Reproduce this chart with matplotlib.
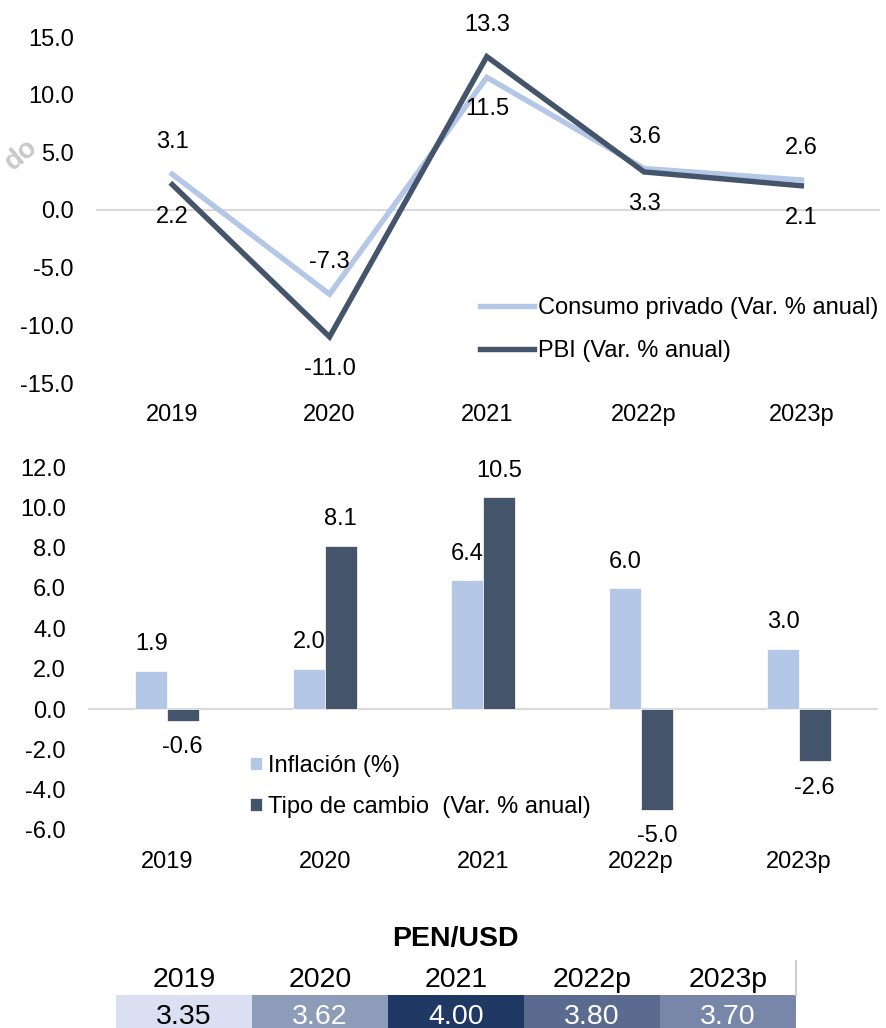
import numpy as np
import matplotlib
matplotlib.use('Agg')
import matplotlib.pyplot as plt
from matplotlib.patches import Rectangle

plt.rcParams['font.family'] = ['Liberation Sans', 'DejaVu Sans']

# data
years = ['2019', '2020', '2021', '2022p', '2023p']
consumo = [3.1, -7.3, 11.5, 3.6, 2.6]
pbi = [2.2, -11.0, 13.3, 3.3, 2.1]
# label side: +1 above, -1 below
consumo_side = [1, 1, -1, 1, 1]
pbi_side = [-1, -1, 1, -1, -1]

inflacion = [1.9, 2.0, 6.4, 6.0, 3.0]
tipo_cambio = [-0.6, 8.1, 10.5, -5.0, -2.6]

pen_usd = [3.35, 3.62, 4.00, 3.80, 3.70]
cell_colors = ['#DAE0F2', '#8E9CB9', '#203864', '#5B6B8F', '#7786A9']
cell_text_colors = ['black', 'white', 'white', 'white', 'white']

light = '#B4C7E7'
dark = '#44546A'
zero_col = '#D9D9D9'
fs = 17

W, H = 887, 1028
fig = plt.figure(figsize=(W/100, H/100), dpi=100)

def px_axes(x0, x1, y0, y1):
    # pixel box (top-left origin) -> figure fraction
    return fig.add_axes([x0/W, 1-y1/H, (x1-x0)/W, (y1-y0)/H])

x = np.arange(len(years))

# ---- top chart: lines
ax1 = px_axes(96, 880, 37, 383)
ax1.axhline(0, color=zero_col, lw=1.5, zorder=1)
ax1.plot(x, consumo, color=light, lw=3.9, label='Consumo privado (Var. % anual)', zorder=3, solid_joinstyle='miter')
ax1.plot(x, pbi, color=dark, lw=3.9, label='PBI (Var. % anual)', zorder=4, solid_joinstyle='miter')
for xi, v, s in zip(x, consumo, consumo_side):
    ax1.annotate(f'{v:.1f}', (xi, v), xytext=(0, 23*s), textcoords='offset points',
                 ha='center', va='center', fontsize=fs)
for xi, v, s in zip(x, pbi, pbi_side):
    ax1.annotate(f'{v:.1f}', (xi, v), xytext=(0, 23*s), textcoords='offset points',
                 ha='center', va='center', fontsize=fs)
ax1.set_xlim(-0.485, 4.5)
ax1.set_ylim(-15, 15)
ax1.set_yticks(np.arange(-15, 16, 5))
ax1.set_yticklabels([f'{t:.1f}' for t in np.arange(-15, 16, 5)])
ax1.set_xticks(x)
ax1.set_xticklabels(years)
ax1.tick_params(length=0, labelsize=fs)
ax1.tick_params(axis='y', pad=16)
ax1.tick_params(axis='x', pad=15)
for sp in ax1.spines.values():
    sp.set_visible(False)
ax1.legend(loc='upper left', bbox_to_anchor=(480/W, 1-297/H), bbox_transform=fig.transFigure,
           frameon=False, fontsize=fs, handlelength=2.3, handletextpad=0.15,
           labelspacing=0.9, borderpad=0, borderaxespad=0)

# ---- bottom chart: bars
ax2 = px_axes(88, 878, 467, 830)
bw = 0.2
ax2.bar(x - bw/2, inflacion, bw, color=light, edgecolor='white', lw=0.5, label='Inflación (%)', zorder=2)
ax2.bar(x + bw/2, tipo_cambio, bw, color=dark, edgecolor='white', lw=0.5, label='Tipo de cambio  (Var. % anual)', zorder=2)
ax2.axhline(0, color=zero_col, lw=1.5, zorder=1)
for xi, v in zip(x, inflacion):
    ax2.annotate(f'{v:.1f}', (xi - bw/2, v), xytext=(0, 19 if v >= 0 else -19),
                 textcoords='offset points', ha='center', va='center', fontsize=fs)
for xi, v in zip(x, tipo_cambio):
    ax2.annotate(f'{v:.1f}', (xi + bw/2, v), xytext=(0, 19 if v >= 0 else -19),
                 textcoords='offset points', ha='center', va='center', fontsize=fs)
ax2.set_xlim(-0.5, 4.5)
ax2.set_ylim(-6, 12)
yt = np.arange(-6, 13, 2)
ax2.set_yticks(yt)
ax2.set_yticklabels([f'{t:.1f}' for t in yt])
ax2.set_xticks(x)
ax2.set_xticklabels(years)
ax2.tick_params(length=0, labelsize=fs)
ax2.tick_params(axis='y', pad=16)
ax2.tick_params(axis='x', pad=15)
for sp in ax2.spines.values():
    sp.set_visible(False)
ax2.legend(loc='upper left', bbox_to_anchor=(250/W, 1-755/H), bbox_transform=fig.transFigure,
           frameon=False, fontsize=fs, handlelength=0.5, handleheight=0.5, handletextpad=0.25,
           labelspacing=0.8, borderpad=0, borderaxespad=0)

# ---- table PEN/USD
fig.text(455/W, 1-939/H, 'PEN/USD', ha='center', va='center', fontsize=20.5, fontweight='bold')
ax3 = px_axes(116, 796, 955, 1028)
ax3.set_xlim(0, 5)
ax3.set_ylim(73, 0)  # pixel offsets from y=955 downward
for i, (yr, v) in enumerate(zip(years, pen_usd)):
    ax3.add_patch(Rectangle((i, 40), 1, 60, facecolor=cell_colors[i], edgecolor='none'))
    ax3.text(i + 0.5, 25, yr, ha='center', va='center', fontsize=20.5)
    ax3.text(i + 0.5, 62, f'{v:.2f}', ha='center', va='center', fontsize=20.5, color=cell_text_colors[i])
ax3.plot([5, 5], [6, 40], color='#D0D0D0', lw=1.5, clip_on=False)
ax3.axis('off')

# watermark fragment
fig.text(21/W, 1-155/H, 'do', rotation=40, ha='center', va='center', fontsize=20,
         fontweight='bold', color='#C8C8C8')

fig.savefig('out.png', dpi=100)
